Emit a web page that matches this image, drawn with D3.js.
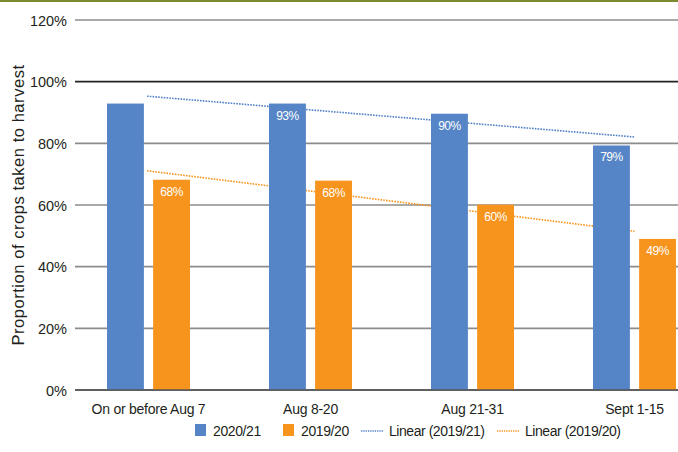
<!DOCTYPE html>
<html>
<head>
<meta charset="utf-8">
<script src="https://cdn.jsdelivr.net/npm/d3@7"></script>
<style>
  html, body { margin: 0; padding: 0; background: #fff; }
  svg { display: block; font-family: "Liberation Sans", Arial, Helvetica, sans-serif; }
</style>
</head>
<body>
<svg id="chart" width="678" height="452"></svg>
<script>
const categories = ["On or before Aug 7", "Aug 8-20", "Aug 21-31", "Sept 1-15"];
const seriesNames = ["2020/21", "2019/20"];
const values2020 = [0.929, 0.929, 0.896, 0.793];
const values2019 = [0.682, 0.679, 0.601, 0.490];
const labels2020 = ["", "93%", "90%", "79%"];
const labels2019 = ["68%", "68%", "60%", "49%"];
const yTicks = [0, 0.2, 0.4, 0.6, 0.8, 1.0, 1.2];
const trendNames = ["Linear (2019/21)", "Linear (2019/20)"];
const yTitle = "Proportion of crops taken to harvest";

const colors = { "2020/21": "#5585c6", "2019/20": "#f7941e" };
const trendColors = ["#4f81c7", "#f7941d"];

const svg = d3.select("#chart");
const W = 678;

// top olive band
svg.append("rect").attr("x", 0).attr("y", 0).attr("width", W).attr("height", 2).attr("fill", "#7a8b2f");

const y = d3.scaleLinear().domain([0, 1.2]).range([390, 20]);
const x0 = d3.scaleBand().domain(categories).range([67.5, 715.5]).paddingInner(0.4877).paddingOuter(0.24385);
const x1 = d3.scaleBand().domain(seriesNames).range([0, x0.bandwidth()]).paddingInner(0.2);

// gridlines
const gridG = svg.append("g");
yTicks.forEach(t => {
  let col = "#8c8c8c";
  if (t === 1.0) col = "#222";
  if (t === 0) col = "#555";
  gridG.append("line")
    .attr("x1", 75).attr("x2", W)
    .attr("y1", y(t)).attr("y2", y(t))
    .attr("stroke", col).attr("stroke-width", 1.6);
});

// y axis labels
const yAxis = d3.axisLeft(y).tickValues(yTicks).tickFormat(d3.format(".0%")).tickSize(0).tickPadding(0);
const yg = svg.append("g").attr("transform", "translate(67,0)").call(yAxis);
yg.select(".domain").remove();
yg.selectAll("text")
  .attr("font-size", "14.5px").attr("fill", "#231f20")
  .attr("font-family", "'Liberation Sans', Arial, sans-serif")
  .attr("dy", "0.36em");

// y title
svg.append("text")
  .attr("transform", "translate(24,205) rotate(-90)")
  .attr("text-anchor", "middle")
  .attr("font-size", "16.5px")
  .attr("letter-spacing", "0.55px")
  .attr("fill", "#231f20")
  .text(yTitle);

// trendlines (least squares fit through the series values), drawn behind bars
function fit(vals) {
  const xs = vals.map((_, i) => i + 1);
  const mx = d3.mean(xs), my = d3.mean(vals);
  const b = d3.sum(xs.map((xv, i) => (xv - mx) * (vals[i] - my))) / d3.sum(xs.map(xv => (xv - mx) ** 2));
  const a = my - b * mx;
  return xs.map(xv => a + b * xv);
}
const centers = categories.map(c => x0(c) + x0.bandwidth() / 2);
[values2020, values2019].forEach((vals, k) => {
  const f = fit(vals);
  svg.append("line")
    .attr("x1", centers[0] - 1.5).attr("y1", y(f[0]))
    .attr("x2", centers[centers.length - 1]).attr("y2", y(f[f.length - 1]))
    .attr("stroke", trendColors[k]).attr("stroke-width", 1.6)
    .attr("stroke-dasharray", "1.6,1.2");
});

// bars
const data = categories.map((c, i) => ({
  cat: c,
  items: [
    { key: "2020/21", v: values2020[i], label: labels2020[i] },
    { key: "2019/20", v: values2019[i], label: labels2019[i] }
  ]
}));

const groups = svg.append("g").selectAll("g").data(data).join("g")
  .attr("transform", d => `translate(${x0(d.cat)},0)`);

groups.selectAll("rect").data(d => d.items).join("rect")
  .attr("x", d => x1(d.key))
  .attr("y", d => y(d.v))
  .attr("width", x1.bandwidth())
  .attr("height", d => y(0) - y(d.v))
  .attr("fill", d => colors[d.key]);

groups.selectAll("text.lbl").data(d => d.items).join("text")
  .attr("class", "lbl")
  .attr("x", d => x1(d.key) + x1.bandwidth() / 2)
  .attr("y", d => y(d.v) + 16)
  .attr("text-anchor", "middle")
  .attr("font-size", "12px")
  .attr("letter-spacing", "-0.5px")
  .attr("fill", "#fff")
  .text(d => d.label);

// axis baseline on top
svg.append("line").attr("x1", 75).attr("x2", W).attr("y1", y(0)).attr("y2", y(0))
  .attr("stroke", "#555").attr("stroke-width", 1.6);

// x labels
const xAxis = d3.axisBottom(x0).tickSize(0).tickPadding(0);
const xg = svg.append("g").attr("transform", "translate(0,403)").call(xAxis);
xg.select(".domain").remove();
xg.selectAll("text")
  .attr("font-size", "14px").attr("letter-spacing", "-0.25px")
  .attr("font-family", "'Liberation Sans', Arial, sans-serif")
  .attr("fill", "#231f20").attr("dy", "0.8em");

// legend
const leg = svg.append("g");
const legSquares = [{ x: 195, name: seriesNames[0] }, { x: 283, name: seriesNames[1] }];
legSquares.forEach(s => {
  leg.append("rect").attr("x", s.x).attr("y", 424).attr("width", 11).attr("height", 12).attr("fill", colors[s.name]);
  leg.append("text").attr("x", s.x + 18).attr("y", 436)
    .attr("font-size", "14px").attr("letter-spacing", "-0.4px").attr("fill", "#231f20").text(s.name);
});
const legLines = [{ x: 361, name: trendNames[0], c: trendColors[0] }, { x: 497, name: trendNames[1], c: trendColors[1] }];
legLines.forEach(s => {
  leg.append("line").attr("x1", s.x).attr("x2", s.x + 22).attr("y1", 431).attr("y2", 431)
    .attr("stroke", s.c).attr("stroke-width", 1.3).attr("stroke-dasharray", "1.3,1");
  leg.append("text").attr("x", s.x + 28).attr("y", 436)
    .attr("font-size", "14px").attr("letter-spacing", "-0.45px").attr("fill", "#231f20").text(s.name);
});
</script>
</body>
</html>
